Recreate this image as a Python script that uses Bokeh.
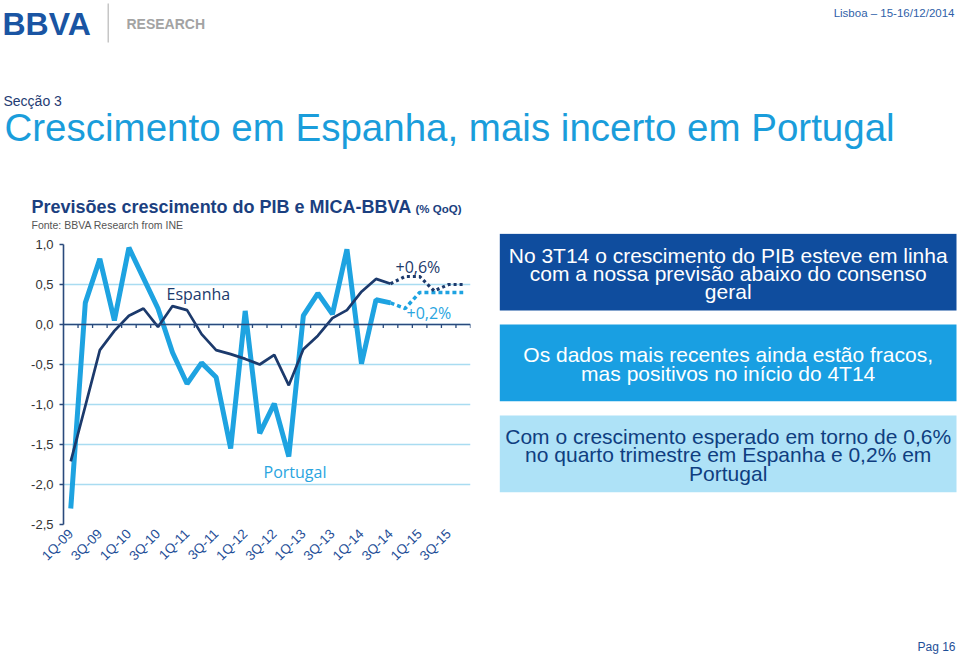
import math
from bokeh.plotting import figure
from bokeh.models import (Range1d, FixedTicker, CustomJSTickFormatter, Span,
                          Label, BoxAnnotation)
from bokeh.layouts import column, row
from bokeh.embed import file_html
from bokeh.resources import INLINE

# ---------------- data ----------------
quarters = ["1Q-09", "2Q-09", "3Q-09", "4Q-09",
            "1Q-10", "2Q-10", "3Q-10", "4Q-10",
            "1Q-11", "2Q-11", "3Q-11", "4Q-11",
            "1Q-12", "2Q-12", "3Q-12", "4Q-12",
            "1Q-13", "2Q-13", "3Q-13", "4Q-13",
            "1Q-14", "2Q-14", "3Q-14", "4Q-14",
            "1Q-15", "2Q-15", "3Q-15", "4Q-15"]

espanha = [-1.71, -1.02, -0.32, -0.08, 0.11, 0.20, -0.03, 0.23,
           0.18, -0.12, -0.32, -0.37, -0.43, -0.50, -0.38, -0.76,
           -0.31, -0.14, 0.08, 0.18, 0.41, 0.57, 0.51]
portugal = [-2.30, 0.27, 0.82, 0.05, 0.96, 0.58, 0.20, -0.35,
            -0.74, -0.48, -0.66, -1.55, 0.17, -1.36, -0.99, -1.65,
            0.11, 0.39, 0.13, 0.94, -0.49, 0.31, 0.27]
# forecasts start at the last observed quarter (3Q-14)
espanha_forecast = [0.51, 0.60, 0.60, 0.42, 0.50, 0.50]
portugal_forecast = [0.27, 0.20, 0.40, 0.40, 0.40, 0.40]

y_ticks = [-2.5, -2.0, -1.5, -1.0, -0.5, 0.0, 0.5, 1.0]
x_tick_every = 2

box_texts = [
    ["No 3T14 o crescimento do PIB esteve em linha",
     "com a nossa previsão abaixo do consenso",
     "geral"],
    ["Os dados mais recentes ainda estão fracos,",
     "mas positivos no início do 4T14"],
    ["Com o crescimento esperado em torno de 0,6%",
     "no quarto trimestre em Espanha e 0,2% em",
     "Portugal"],
]

# ---------------- styles ----------------
NAVY = "#1c3a6c"
LIGHT = "#1ea3e1"
GRID = "#a9dcf1"
AXIS = "#2a4a7c"
ARIAL = "Liberation Sans"
HUMAN = "Open Sans"

PAGE_W, PAGE_H = 959, 654
HEAD_H = 233
CHART_W = 490


def blank_fig(w, h, x0, x1, y_top, y_bottom):
    f = figure(width=w, height=h, output_backend="svg", toolbar_location=None,
               x_range=Range1d(x0, x1), y_range=Range1d(y_bottom, y_top),
               x_axis_location=None, y_axis_location=None,
               min_border=0, frame_align=False)
    f.outline_line_color = None
    f.grid.grid_line_color = None
    f.background_fill_color = "white"
    f.border_fill_color = "white"
    return f


def txt(f, text, x, y, size, color, font=ARIAL, bold=False, align="left",
        rng=None):
    # y is the vertical centre of the text line, in page pixels
    kw = dict(x_range_name=rng, y_range_name=rng) if rng else {}
    f.add_layout(Label(x=x, y=y, text=text, text_font=font,
                       text_font_size=size, text_color=color,
                       text_align=align, text_baseline="middle",
                       text_font_style="bold" if bold else "normal", **kw))


def box(f, left, right, top, bottom, color):
    f.add_layout(BoxAnnotation(left=left, right=right, top=top, bottom=bottom,
                               fill_color=color, fill_alpha=1.0,
                               line_color=None))


# ---------------- header ----------------
head = blank_fig(PAGE_W, HEAD_H, 0, PAGE_W, 0, HEAD_H)
txt(head, "BBVA", 2, 23.5, "32px", "#1a55a3", bold=True)
box(head, 107, 108.5, 3, 42, "#c6c6c6")
txt(head, "RESEARCH", 126, 23.3, "14px", "#a3a3a3", bold=True)
txt(head, "Lisboa – 15-16/12/2014", 954, 12.5, "11.5px", "#2f5fa8", align="right")
txt(head, "Secção 3", 3, 100.5, "14px", "#1f3b73")
txt(head, "Crescimento em Espanha, mais incerto em Portugal", 4, 127, "38.5px", "#1a9ddb")
txt(head, "Previsões crescimento do PIB e MICA-BBVA", 31, 206.5, "18px", "#1b3f80", bold=True)
txt(head, "(% QoQ)", 415, 208, "11.5px", "#1b3f80", bold=True)
txt(head, "Fonte: BBVA Research from INE", 31, 224, "10.5px", "#555555")

# ---------------- chart ----------------
CH_H = PAGE_H - HEAD_H
FR_L, FR_R, FR_T, FR_B = 63, 470, 244, 524   # frame in page pixels
p = figure(width=CHART_W, height=CH_H, output_backend="svg", toolbar_location=None,
           x_range=Range1d(-0.5, len(quarters) - 0.5),
           y_range=Range1d(y_ticks[0], y_ticks[-1]),
           min_border_left=FR_L, min_border_right=CHART_W - FR_R,
           min_border_top=FR_T - HEAD_H, min_border_bottom=PAGE_H - FR_B,
           frame_align=False)
p.outline_line_color = None
p.background_fill_color = "white"
p.border_fill_color = "white"
p.extra_x_ranges = {"px": Range1d(FR_L, FR_R)}
p.extra_y_ranges = {"px": Range1d(FR_B, FR_T)}

p.xgrid.grid_line_color = None
p.ygrid.ticker = FixedTicker(ticks=y_ticks)
p.ygrid.grid_line_color = GRID
p.ygrid.grid_line_width = 1.3

ya = p.yaxis[0]
ya.ticker = FixedTicker(ticks=y_ticks)
ya.formatter = CustomJSTickFormatter(code="return tick.toFixed(1).replace('.', ',');")
ya.axis_line_color = AXIS
ya.axis_line_width = 1.6
ya.major_tick_in = 0
ya.major_tick_out = 4
ya.major_tick_line_color = AXIS
ya.major_tick_line_width = 1.4
ya.minor_tick_line_color = None
ya.major_label_standoff = 6
ya.major_label_text_font = ARIAL
ya.major_label_text_font_size = "13px"
ya.major_label_text_color = "#333333"

xa = p.xaxis[0]
xa.ticker = FixedTicker(ticks=list(range(0, len(quarters), x_tick_every)))
xa.formatter = CustomJSTickFormatter(args=dict(labels=quarters),
                                     code="return labels[Math.round(tick)] || '';")
xa.axis_line_color = None
xa.major_tick_line_color = None
xa.minor_tick_line_color = None
xa.major_tick_in = 0
xa.major_tick_out = 0
xa.major_label_standoff = 7
xa.major_label_orientation = math.pi / 4
xa.major_label_text_font = ARIAL
xa.major_label_text_font_size = "13.5px"
xa.major_label_text_color = "#1f4f98"

p.add_layout(Span(location=0, dimension="width", line_color=AXIS, line_width=1.6))
bounds = [i + 0.5 for i in range(len(quarters))]
p.segment(x0=bounds, y0=[0] * len(bounds), x1=bounds, y1=[-0.045] * len(bounds),
          line_color=AXIS, line_width=1.3)

n = len(espanha)
x_obs = list(range(n))
x_fc = list(range(n - 1, n - 1 + len(espanha_forecast)))

p.line(x_obs, portugal, line_color=LIGHT, line_width=5)
p.line(x_fc, portugal_forecast, line_color=LIGHT, line_width=3.5, line_dash="4 3")
p.line(x_obs, espanha, line_color=NAVY, line_width=2.7)
p.line(x_fc, espanha_forecast, line_color=NAVY, line_width=3.2, line_dash="3 3")

txt(p, "Espanha", 166, 293.3, "16px", NAVY, font=HUMAN, rng="px")
txt(p, "Portugal", 263, 471, "16px", "#2aa5df", font=HUMAN, rng="px")
txt(p, "+0,6%", 395, 266, "16px", NAVY, font=HUMAN, rng="px")
txt(p, "+0,2%", 406, 312, "16px", "#2aa5df", font=HUMAN, rng="px")

# ---------------- right panel ----------------
right = blank_fig(PAGE_W - CHART_W, CH_H, CHART_W, PAGE_W, HEAD_H, PAGE_H)
box_specs = [
    (233.3, 310.0, "#0f4d9e", "white", [254.5, 272.7, 290.9]),
    (324.0, 400.7, "#199fe2", "white", [354.0, 373.0]),
    (415.0, 491.7, "#aee2f7", "#0f3e80", [435.5, 454.0, 472.5]),
]
for (top, bottom, fill, tcol, centres), lines in zip(box_specs, box_texts):
    box(right, 499.3, 956, top, bottom, fill)
    for line, cy in zip(lines, centres):
        txt(right, line, 727.7, cy, "21px", tcol, align="center")

txt(right, "Pag 16", 955, 646.5, "12px", "#1e4f98", align="right")

layout = column(head, row(p, right))
open("out.html", "w").write(file_html(layout, INLINE))
